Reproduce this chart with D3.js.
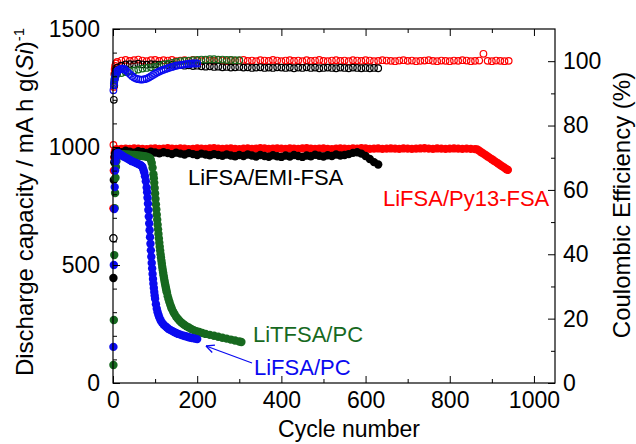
<!DOCTYPE html>
<html><head><meta charset="utf-8">
<script src="https://cdn.jsdelivr.net/npm/d3@7"></script>
<style>
body{margin:0;background:#fff}
svg{display:block}
text{font-family:"Liberation Sans",Arial,Helvetica,sans-serif}
</style>
</head><body>
<svg id="c" width="636" height="444"></svg>
<script>
// ---------------- DATA ----------------
const xTicksMajor = [0,200,400,600,800,1000];
const capTicks = [0,500,1000,1500];
const ceTicks = [0,20,40,60,80,100];

// LiFSA/Py13-FSA (red) — capacity [cycle, mAh/g]
const redCapEarly = [[1,740],[2,900],[3,955],[4,975],[5,985],[7,990]];
const redCapPlateau = [990,992,993,992,994,993,992,991,993,994, 992,993,995,993,992,994,993,991,992,994,
  993,992,994,995,993,992,993,994,992,991, 993,994,992,993,995,994,992,993,994,993,
  992,994,993,992,994,995,993,992,993,994, 992,991,993,994,993,992,994,993,995,994,
  992,993,994,992,993,994,993,992,994,993, 992,993,994,995,993,992,994,993,992,993,
  994,993,992,993,992,991]; // cycles 10..860 every 10
const redCapTail = [[865,990],[870,984],[875,978],[880,972],[885,966],[890,960],[895,954],[900,948],[905,942],
  [910,936],[915,930],[920,924],[925,918],[930,912],[935,906],[938,903]];
// red Coulombic efficiency [cycle, %]
const redCEEarly = [[1,74],[2,92],[3,96],[4,97.5],[5,98.5],[7,99.3]];
const redCEPlateau = [99.8,100.2,100.4,100.1,100.3,100.5,100.2,100.0,100.3,100.4, 100.1,100.3,100.2,100.4,100.0,100.2,100.3,100.1,100.4,100.2,
  100.0,100.3,100.2,100.1,100.4,100.2,100.0,100.3,100.1,100.2, 100.4,100.1,100.2,100.0,100.3,100.2,100.1,100.4,100.2,100.0,
  100.2,100.3,100.1,100.2,100.0,100.3,100.1,100.2,100.4,100.1, 100.0,100.2,100.3,100.1,100.2,100.0,100.3,100.2,100.1,100.3,
  100.2,100.0,100.1,100.3,100.2,100.1,100.0,100.2,100.3,100.1, 100.2,100.0,100.1,100.2,100.3,100.1,100.0,100.2,100.1,100.0,
  100.2,100.1,100.3,100.2,100.0,100.1,100.2,102.3,100.1,100.0, 100.2,100.1,100.0,100.1]; // cycles 10..940 every 10

// LiFSA/EMI-FSA (black)
const blackCapEarly = [[1,445],[2,860],[3,935],[4,960],[5,972],[7,980]];
const blackCapPlateau = [982,978,984,980,976,982,979,975,980,977, 973,978,974,970,976,972,968,974,970,966,
  972,968,965,970,966,963,968,964,961,966, 962,968,964,960,966,962,959,965,961,958,
  964,960,966,962,958,964,961,967,963,960, 965,962,968,964,966,970,975,978,972,962,
  949,936,926]; // cycles 10..630 every 10
const blackCEEarly = [[1,45],[2,88],[3,92.5],[4,94.5],[5,96],[7,97.2]];
const blackCEPlateau = [98.0,98.6,99.0,99.1,99.0,99.2,99.0,98.9,99.1,99.0, 98.9,99.0,98.8,98.9,98.7,98.8,98.6,98.7,98.5,98.6,
  98.4,98.3,98.4,98.2,98.3,98.1,98.2,98.0,98.1,98.2, 98.0,98.1,97.9,98.0,98.1,97.9,98.0,97.9,98.1,98.0,
  97.9,98.0,97.8,98.0,97.9,98.1,97.9,98.0,97.8,97.9, 98.0,97.9,97.8,98.0,97.9,97.8,98.0,97.9,97.8,97.9,
  97.8,97.9,97.8]; // cycles 10..630 every 10

// LiTFSA/PC (green)
const greenCap = [[1,76],[2,267],[3,542],[4,741],[5,805],[6,870],[7,915],[8,940],[10,958],[12,965],[15,968],[20,969],
  [25,969],[30,968],[35,968],[40,967],[45,966],[50,966],[55,965],[60,964],[65,963],[70,962],[75,961],[80,959],[85,956],
  [88,952],[90,945],[92,932],[94,912],[96,885],[97,868],[98,848],[99,826],[100,803],[101,780],[102,757],[103,735],
  [104,713],[105,692],[106,671],[107,651],[108,631],[109,612],[110,594],[111,577],[112,561],[113,546],[114,532],
  [115,518],[116,505],[117,492],[118,480],[119,468],[120,457],[121,446],[122,436],[123,426],[124,417],[125,408],
  [126,399],[127,391],[128,383],[130,368],[132,355],[134,343],[136,332],[138,322],[140,313],[143,302],[146,292],
  [150,281],[154,272],[158,264],[162,257],[166,251],[170,246],[175,240],[180,235],[186,229],[192,224],[198,220],
  [205,216],[212,212],[220,208],[230,204],[240,200],[250,196],[260,192],[270,188],[280,184],[290,180],[300,176],[305,174]];
const greenCE = [[2,93],[3,94],[4,94.8],[5,95.3],[7,95.8],[10,96.0],[20,96.3],[30,96.6],[40,96.9],[50,97.1],[60,97.4],
  [70,97.7],[80,97.9],[90,98.1],[100,98.3],[110,98.6],[120,98.9],[130,99.2],[140,99.5],[150,99.8],[160,100.0],
  [170,100.1],[180,100.2],[190,100.3],[200,100.4],[210,100.5],[220,100.5],[230,100.6],[240,100.6],[250,100.5],
  [260,100.5],[270,100.4],[280,100.4],[290,100.3],[300,100.3]];

// LiFSA/PC (blue)
const blueCap = [[1,153],[2,500],[3,737],[4,830],[5,900],[6,940],[7,958],[8,968],[10,974],[12,975],[15,972],[20,966],
  [25,960],[30,955],[35,950],[40,945],[45,940],[50,936],[55,932],[60,928],[65,924],[68,920],[70,915],[72,905],[74,893],
  [76,876],[78,855],[80,828],[81,808],[82,785],[83,760],[84,733],[85,705],[86,676],[87,647],[88,618],[89,590],[90,562],
  [91,535],[92,509],[93,485],[94,462],[95,441],[96,421],[97,403],[98,386],[99,371],[100,357],[102,334],[104,315],
  [106,300],[108,288],[110,278],[113,266],[116,257],[120,248],[124,241],[128,235],[132,229],[136,225],[140,221],
  [145,216],[150,212],[155,208],[160,205],[165,202],[170,199],[175,197],[180,194],[185,192],[190,190],[195,188],[200,186]];
const blueCE = [[1,91],[2,92.5],[3,93.5],[4,94.3],[5,95],[6,95.6],[8,96.3],[10,96.8],[12,97.1],[15,97.4],[18,97.6],
  [21,97.7],[24,97.7],[27,97.5],[30,97.2],[35,96.6],[40,96.0],[45,95.4],[50,94.9],[55,94.6],[60,94.4],[65,94.3],
  [70,94.3],[75,94.4],[80,94.6],[85,94.9],[90,95.3],[95,95.7],[100,96.1],[105,96.5],[110,96.8],[115,97.1],[120,97.3],
  [125,97.6],[130,97.8],[135,98.0],[140,98.2],[145,98.4],[150,98.6],[155,98.7],[160,98.8],[165,98.9],[170,99.0],
  [175,99.1],[180,99.2],[185,99.2],[190,99.3],[195,99.3],[200,99.3]];

const labels = {red:"LiFSA/Py13-FSA", black:"LiFSA/EMI-FSA", green:"LiTFSA/PC", blue:"LiFSA/PC"};

// ---------------- BUILD ----------------
function withStep(start, step, vals){ return vals.map((v,i)=>[start+i*step, v]); }
const series = [
  {key:"red", color:"#ff0000",
   cap: redCapEarly.concat(withStep(10,10,redCapPlateau), redCapTail),
   ce: redCEEarly.concat(withStep(10,10,redCEPlateau))},
  {key:"black", color:"#000000",
   cap: blackCapEarly.concat(withStep(10,10,blackCapPlateau)),
   ce: blackCEEarly.concat(withStep(10,10,blackCEPlateau))},
  {key:"green", color:"#17691f", cap: greenCap, ce: greenCE},
  {key:"blue", color:"#0a0af0", cap: blueCap, ce: blueCE}
];

const L=113, R=555, T=29, B=383;
const x = d3.scaleLinear().domain([0,1050]).range([L,R]);
const yCap = d3.scaleLinear().domain([0,1500]).range([B,T]);
const yCE = d3.scaleLinear().domain([0,110]).range([B,T]);
const fmt = d3.format("d");

const svg = d3.select("#c");
svg.append("rect").attr("width",636).attr("height",444).attr("fill","#fff");

const plot = svg.append("g");
// capacity (filled)
series.forEach(s=>{
  plot.append("g").selectAll("circle").data(s.cap).join("circle")
    .attr("cx",d=>x(d[0])).attr("cy",d=>yCap(d[1])).attr("r",4.2)
    .attr("fill",s.color);
});
// coulombic efficiency (open)
series.forEach(s=>{
  plot.append("g").selectAll("circle").data(s.ce).join("circle")
    .attr("cx",d=>x(d[0])).attr("cy",d=>yCE(d[1])).attr("r",3.3)
    .attr("fill","none").attr("stroke",s.color).attr("stroke-width",1.2);
});
// black CE first cycle drawn with white fill
plot.append("circle").attr("cx",x(blackCEEarly[0][0])).attr("cy",yCE(blackCEEarly[0][1]))
  .attr("r",3.6).attr("fill","#fff").attr("stroke","#000").attr("stroke-width",1.2);

// axes
const fs = "23px";
function style(g){ g.selectAll(".domain").remove(); g.selectAll("line").attr("stroke","#000").attr("stroke-width",1);
  g.selectAll("text").attr("font-size",fs).attr("fill","#000").attr("font-family",'"Liberation Sans",Arial,sans-serif'); }
const minorX = d3.range(100,1001,200);
const minorCap = d3.range(100,1500,100).filter(v=>v%500);
const minorCE = d3.range(10,110,20);

svg.append("g").attr("transform",`translate(0,${B})`)
  .call(d3.axisBottom(x).tickValues(xTicksMajor).tickFormat(fmt).tickSizeInner(-7).tickSizeOuter(0).tickPadding(9)).call(style);
svg.append("g").attr("transform",`translate(0,${B})`)
  .call(d3.axisBottom(x).tickValues(minorX).tickSizeInner(-4).tickSizeOuter(0).tickFormat("")).call(style);
svg.append("g").attr("transform",`translate(0,${T})`)
  .call(d3.axisTop(x).tickValues(xTicksMajor).tickSizeInner(-7).tickSizeOuter(0).tickFormat("")).call(style);
svg.append("g").attr("transform",`translate(0,${T})`)
  .call(d3.axisTop(x).tickValues(minorX).tickSizeInner(-4).tickSizeOuter(0).tickFormat("")).call(style);
svg.append("g").attr("transform",`translate(${L},0)`)
  .call(d3.axisLeft(yCap).tickValues(capTicks).tickFormat(fmt).tickSizeInner(-7).tickSizeOuter(0).tickPadding(13)).call(style);
svg.append("g").attr("transform",`translate(${L},0)`)
  .call(d3.axisLeft(yCap).tickValues(minorCap).tickSizeInner(-4).tickSizeOuter(0).tickFormat("")).call(style);
svg.append("g").attr("transform",`translate(${R},0)`)
  .call(d3.axisRight(yCE).tickValues(ceTicks).tickFormat(fmt).tickSizeInner(-7).tickSizeOuter(0).tickPadding(8)).call(style);
svg.append("g").attr("transform",`translate(${R},0)`)
  .call(d3.axisRight(yCE).tickValues(minorCE).tickSizeInner(-4).tickSizeOuter(0).tickFormat("")).call(style);

svg.append("rect").attr("x",L).attr("y",T).attr("width",R-L).attr("height",B-T)
  .attr("fill","none").attr("stroke","#000").attr("stroke-width",1.2);

// axis titles
svg.append("text").attr("x",(L+R)/2+15).attr("y",437).attr("text-anchor","middle")
  .attr("font-size","23px").text("Cycle number");
const yt = svg.append("text").attr("transform","translate(33,202) rotate(-90)").attr("text-anchor","middle")
  .attr("font-size","24px");
yt.append("tspan").text("Discharge capacity / mA h g(");
yt.append("tspan").attr("font-style","italic").text("Si");
yt.append("tspan").text(")");
yt.append("tspan").attr("font-size","15px").attr("dy","-9").text("-1");
svg.append("text").attr("transform","translate(630,205) rotate(-90)").attr("text-anchor","middle")
  .attr("font-size","24px").text("Coulombic Efficiency (%)");

// series labels
svg.append("text").attr("x",188).attr("y",185).attr("font-size","22px").attr("fill","#000").text(labels.black);
svg.append("text").attr("x",383).attr("y",206).attr("font-size","22px").attr("fill","#ff0000").text(labels.red);
svg.append("text").attr("x",253).attr("y",342).attr("font-size","22px").attr("fill","#17691f").text(labels.green);
svg.append("text").attr("x",254).attr("y",375).attr("font-size","22px").attr("fill","#0a0af0").text(labels.blue);

// arrow to LiFSA/PC curve
const ax0 = 252, ay0 = 363, ax1 = 206, ay1 = 346;
svg.append("line").attr("x1",ax0).attr("y1",ay0).attr("x2",ax1).attr("y2",ay1)
  .attr("stroke","#0a0af0").attr("stroke-width",1.3);
const ang = Math.atan2(ay0-ay1, ax0-ax1);
[0.45,-0.45].forEach(a=>{
  svg.append("line").attr("x1",ax1).attr("y1",ay1)
    .attr("x2",ax1+9*Math.cos(ang+a)).attr("y2",ay1+9*Math.sin(ang+a))
    .attr("stroke","#0a0af0").attr("stroke-width",1.3);
});
</script>
</body></html>
